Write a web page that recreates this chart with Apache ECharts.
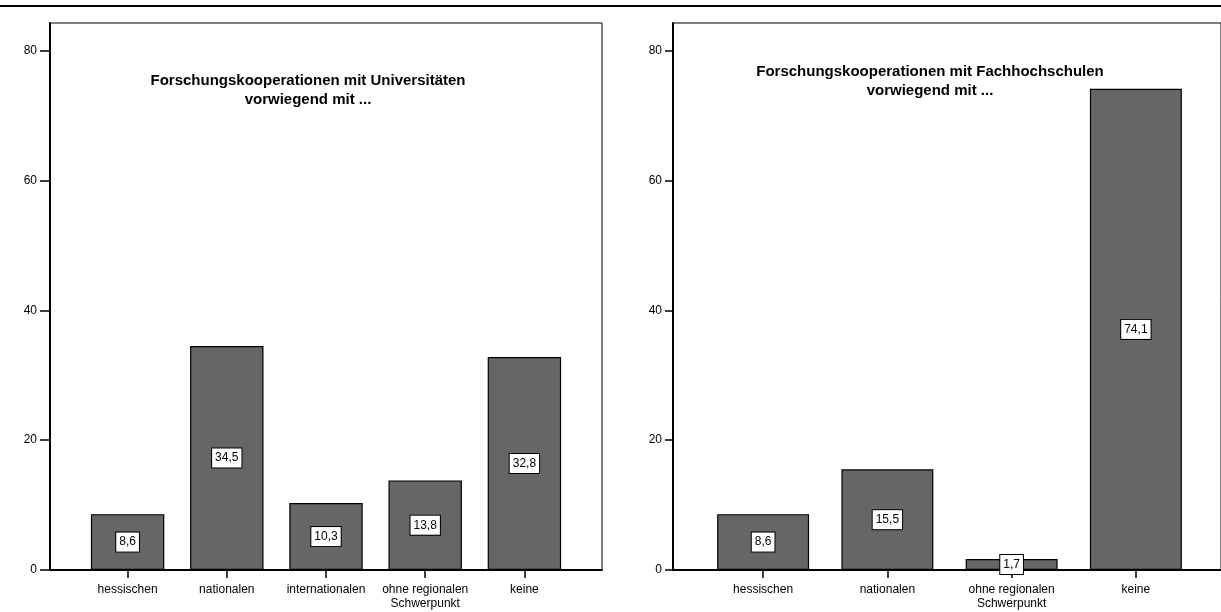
<!DOCTYPE html>
<html>
<head>
<meta charset="utf-8">
<script src="https://cdn.jsdelivr.net/npm/echarts@6/dist/echarts.min.js"></script>
<style>
  html, body { margin: 0; padding: 0; background: #fff; }
  #chart { width: 1221px; height: 612px; }
</style>
</head>
<body>
<div id="chart"></div>
<script>
// data
var catsUni = ['hessischen', 'nationalen', 'internationalen', 'ohne regionalen\nSchwerpunkt', 'keine'];
var valsUni = [8.6, 34.5, 10.3, 13.8, 32.8];
var catsFh = ['hessischen', 'nationalen', 'ohne regionalen\nSchwerpunkt', 'keine'];
var valsFh = [8.6, 15.5, 1.7, 74.1];
var yMin = 0;
var yMax = 80;
var yStep = 20;
var titleUni = 'Forschungskooperationen mit Universitäten\nvorwiegend mit ...';
var titleFh = 'Forschungskooperationen mit Fachhochschulen\nvorwiegend mit ...';

var FONT = "'Liberation Sans', Arial, sans-serif";
var chart = echarts.init(document.getElementById('chart'));

function hiddenAxis(idx) {
  return { type: 'value', gridIndex: idx, show: false, min: 0, max: 1 };
}

// one panel = frame grid + tick grid + data grid
function panel(p, cats, vals, frameLeft, frameWidth, dataLeft, dataWidth, tickLen) {
  var g = p * 3;
  var grids = [
    { left: frameLeft, top: 23, width: frameWidth, bottom: 42, show: true, borderColor: '#000', borderWidth: 1, backgroundColor: 'transparent' },
    { left: frameLeft, top: 50.5, width: frameWidth, bottom: 42 },
    { left: dataLeft, top: 50.5, width: dataWidth, bottom: 42 }
  ];
  var xAxes = [
    { type: 'value', gridIndex: g, min: 0, max: 1, position: 'bottom',
      axisLine: { show: true, onZero: false, lineStyle: { color: '#000', width: 2 } },
      axisTick: { show: false }, axisLabel: { show: false }, splitLine: { show: false } },
    hiddenAxis(g + 1),
    { type: 'category', gridIndex: g + 2, data: cats,
      axisLine: { show: false },
      axisTick: { show: true, alignWithLabel: true, length: 8, lineStyle: { color: '#000', width: 1.5 } },
      axisLabel: { color: '#000', fontSize: 12, fontFamily: FONT, margin: 13, lineHeight: 14, interval: 0 },
      splitLine: { show: false } }
  ];
  var yAxes = [
    { type: 'value', gridIndex: g, min: 0, max: 1, position: 'left',
      axisLine: { show: true, onZero: false, lineStyle: { color: '#000', width: 2 } },
      axisTick: { show: false }, axisLabel: { show: false }, splitLine: { show: false } },
    { type: 'value', gridIndex: g + 1, min: yMin, max: yMax, interval: yStep,
      axisLine: { show: false },
      axisTick: { show: true, length: tickLen, lineStyle: { color: '#000', width: 1.5 } },
      axisLabel: { color: '#000', fontSize: 12, fontFamily: FONT, margin: tickLen + 3 },
      splitLine: { show: false } },
    { type: 'value', gridIndex: g + 2, min: yMin, max: yMax, show: false }
  ];
  var series = [{
    type: 'bar',
    xAxisIndex: g + 2,
    yAxisIndex: g + 2,
    data: vals,
    barWidth: '74%',
    itemStyle: { color: '#666666', borderColor: '#000', borderWidth: 1.2 },
    label: {
      show: true,
      position: 'inside',
      formatter: function(d) { return String(d.value).replace('.', ','); },
      color: '#000',
      fontSize: 12,
      fontFamily: FONT,
      lineHeight: 14,
      backgroundColor: '#fff',
      borderColor: '#000',
      borderWidth: 1,
      padding: [3, 3, 2, 3]
    }
  }];
  return { grids: grids, xAxes: xAxes, yAxes: yAxes, series: series };
}

var a = panel(0, catsUni, valsUni, 50, 552, 78, 496, 10);
var b = panel(1, catsFh, valsFh, 673, 553, 701, 497, 8);

var option = {
  animation: false,
  backgroundColor: '#fff',
  grid: a.grids.concat(b.grids),
  xAxis: a.xAxes.concat(b.xAxes),
  yAxis: a.yAxes.concat(b.yAxes),
  series: a.series.concat(b.series),
  graphic: [
    { type: 'line', shape: { x1: 0, y1: 6, x2: 1221, y2: 6 }, style: { stroke: '#000', lineWidth: 2 } },
    { type: 'text', x: 308, y: 71, style: { text: titleUni, fontSize: 15, fontWeight: 'bold', fontFamily: FONT, lineHeight: 19, align: 'center', verticalAlign: 'top', fill: '#000' } },
    { type: 'text', x: 930, y: 62, style: { text: titleFh, fontSize: 15, fontWeight: 'bold', fontFamily: FONT, lineHeight: 19, align: 'center', verticalAlign: 'top', fill: '#000' } }
  ]
};
chart.setOption(option);
</script>
</body>
</html>
